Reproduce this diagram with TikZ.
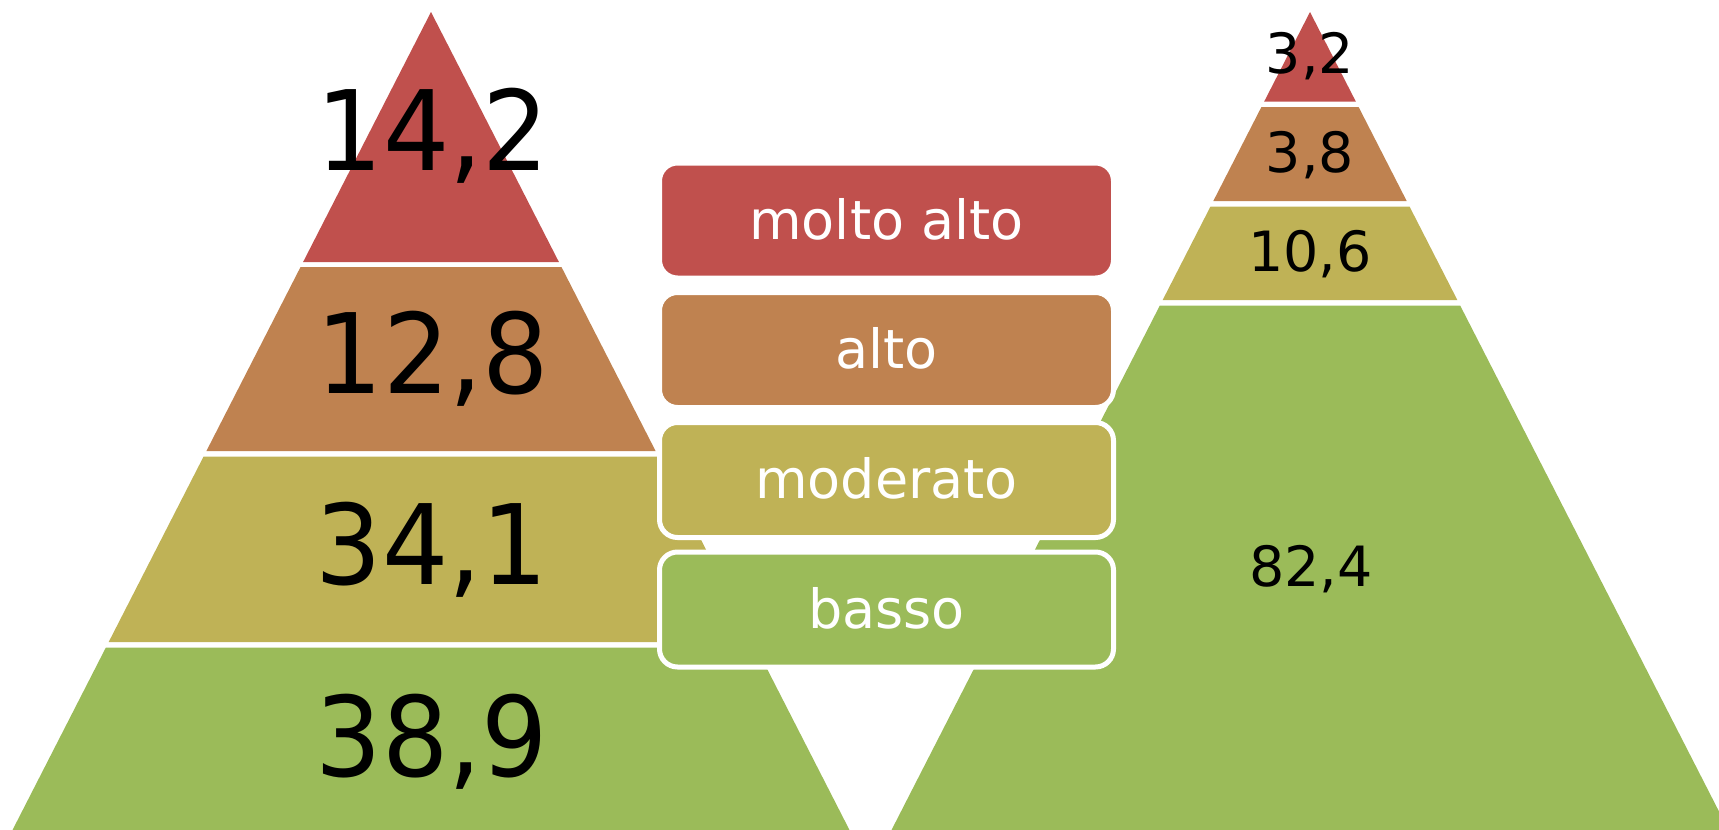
\documentclass[tikz,border=0pt]{standalone}
\usepackage{fontspec}
\setmainfont{DejaVu Sans}
\newfontfamily\bignumfont[FakeStretch=0.94]{DejaVu Sans}

\definecolor{riskred}{HTML}{C0504D}
\definecolor{riskbrown}{HTML}{BF8250}
\definecolor{riskolive}{HTML}{BFB256}
\definecolor{riskgreen}{HTML}{9BBB59}

% one horizontal slice of a pyramid: apex x, top y, bottom y, colour
\newcommand\pyrband[4]{%
  \fill[#4] ({#1-0.5116*(#2-12)},#2) -- ({#1+0.5116*(#2-12)},#2)
        -- ({#1+0.5116*(#3-12)},#3) -- ({#1-0.5116*(#3-12)},#3) -- cycle;}

\begin{document}
\begin{tikzpicture}[x=1pt,y=-1pt,
  bigval/.style={font=\bignumfont\fontsize{111}{120}\selectfont, text=black, anchor=base, inner sep=0pt},
  smallval/.style={font=\fontsize{55.5}{60}\selectfont, text=black, anchor=base, inner sep=0pt},
  legbox/.style={draw=white, line width=5pt, rounded corners=18pt,
    minimum width=454pt, minimum height=115pt, inner sep=0pt,
    text=white, font=\fontsize{54}{60}\selectfont, text height=40pt, text depth=3pt}]
\useasboundingbox (0,0) rectangle (1719,830);
\clip (0,0) rectangle (1719,830);

% left pyramid
\pyrband{431}{12}{262}{riskred}
\pyrband{431}{267}{451}{riskbrown}
\pyrband{431}{456.5}{642}{riskolive}
\pyrband{431}{647.5}{850}{riskgreen}

% right pyramid
\pyrband{1310}{12}{101.5}{riskred}
\pyrband{1310}{107}{201}{riskbrown}
\pyrband{1310}{206.5}{300}{riskolive}
\pyrband{1310}{305.5}{850}{riskgreen}

% values, left
\node[bigval] (l1) at (433,170) {14,2};
\node[bigval] (l2) at (433,393) {12,8};
\node[bigval] (l3) at (432,584) {34,1};
\node[bigval] (l4) at (432,776) {38,9};

% values, right
\node[smallval] (r1) at (1310,73.5) {3,2};
\node[smallval] (r2) at (1310,172) {3,8};
\node[smallval] (r3) at (1310,271) {10,6};
\node[smallval] (r4) at (1311,586.5) {82,4};

% legend
\node[legbox, fill=riskred]   (k1) at (886.5,220.5) {molto alto};
\node[legbox, fill=riskbrown] (k2) at (886.5,350)   {alto};
\node[legbox, fill=riskolive] (k3) at (886.5,480)   {moderato};
\node[legbox, fill=riskgreen] (k4) at (886.5,609.5) {basso};
\end{tikzpicture}
\end{document}
